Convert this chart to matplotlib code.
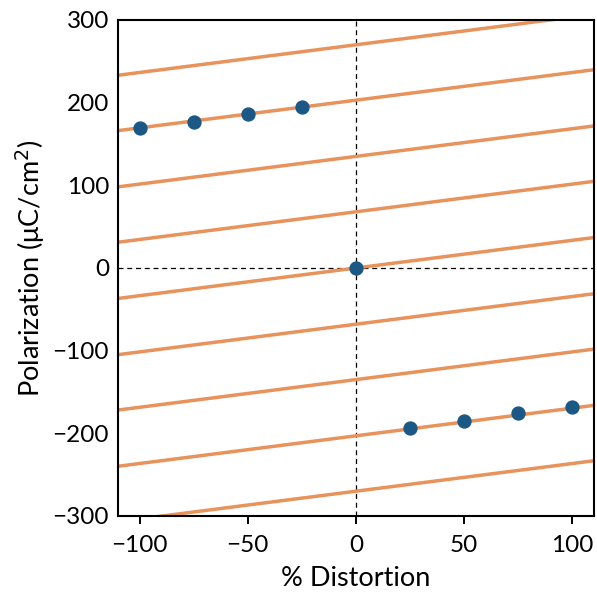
import matplotlib
matplotlib.use("Agg")
import matplotlib.pyplot as plt
import numpy as np

plt.rcParams['font.family'] = ['Lato', 'DejaVu Sans']

# Polarization lattice branches: intercept at 0 % distortion (uC/cm^2) and common slope
branch_intercepts = [-406, -338, -270, -203, -135, -68, 0, 68, 135, 203, 270, 338, 406]
branch_slope = 0.335  # uC/cm^2 per % distortion

# Computed polarization along the distortion path
distortion = [-100, -75, -50, -25, 0, 25, 50, 75, 100]
polarization = [169, 177, 186, 195, 0, -194, -185, -176, -168]

x_ticks = [-100, -50, 0, 50, 100]
y_ticks = [-300, -200, -100, 0, 100, 200, 300]

fig = plt.figure(figsize=(5.97, 5.92), dpi=100)
ax = fig.add_axes([118/597, 1 - 516/592, (594-118)/597, (516-20)/592])

xs = np.array([-110, 110])
for b in branch_intercepts:
    ax.plot(xs, branch_slope * xs + b, color='#E8925C', lw=2.5, zorder=2)

ax.axhline(0, color='black', lw=0.9, ls='--', dashes=(4, 3), zorder=1)
ax.axvline(0, color='black', lw=0.9, ls='--', dashes=(4, 3), zorder=1)

ax.plot(distortion, polarization, 'o', color='#1B5886', ms=9.3, zorder=3)

ax.set_xlim(-110, 110)
ax.set_ylim(-300, 300)
ax.set_xticks(x_ticks)
ax.set_yticks(y_ticks)
ax.set_xticklabels(['\u2212100', '\u221250', '0', '50', '100'])
ax.set_yticklabels(['\u2212300', '\u2212200', '\u2212100', '0', '100', '200', '300'])
ax.tick_params(axis='x', labelsize=17.5, width=1.4, length=5.8, pad=8)
ax.tick_params(axis='y', labelsize=17.5, length=0, pad=6.5)
for s in ax.spines.values():
    s.set_linewidth(1.5)

ax.set_xlabel('% Distortion', fontsize=19.5, labelpad=7)
ax.set_ylabel('Polarization (\u03bcC/cm$^2$)', fontsize=19.5, labelpad=4)

fig.savefig('out.png', dpi=100)
